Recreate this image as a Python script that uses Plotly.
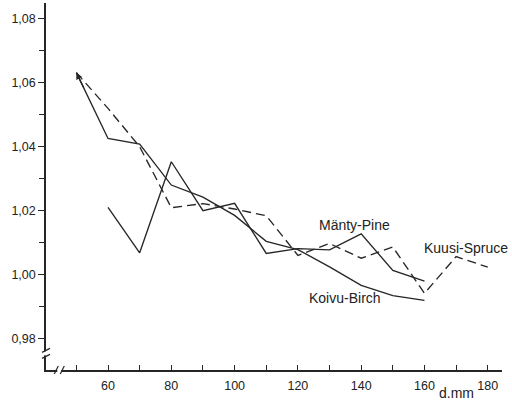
import plotly.graph_objects as go

# Tree diameter classes (mm) and form ratio per species
birch_d = [50, 60, 70, 80, 90, 100, 110, 120, 130, 140, 150, 160]
birch_v = [1.0632, 1.0426, 1.0408, 1.0280, 1.0242, 1.0185, 1.0104, 1.0078, 1.0024, 0.9966, 0.9934, 0.9919]

pine_d = [60, 70, 80, 90, 100, 110, 120, 130, 140, 150, 160]
pine_v = [1.0210, 1.0068, 1.0353, 1.0200, 1.0223, 1.0066, 1.0081, 1.0077, 1.0127, 1.0013, 0.9979]

spruce_d = [50, 60, 70, 80, 90, 100, 110, 120, 130, 140, 150, 160, 170, 180]
spruce_v = [1.0632, 1.0520, 1.0400, 1.0209, 1.0222, 1.0205, 1.0184, 1.0060, 1.0097, 1.0051, 1.0086, 0.9941, 1.0056, 1.0023]

x_ticks = [60, 80, 100, 120, 140, 160, 180]
x_tick_text = ["60", "80", "100", "120", "140", "160", "180"]
y_ticks = [0.98, 1.00, 1.02, 1.04, 1.06, 1.08]
y_tick_text = ["0,98", "1,00", "1,02", "1,04", "1,06", "1,08"]

INK = "#262626"
X_RANGE = [40.4, 184.5]
Y_RANGE = [0.9701, 1.085]
X_BREAK = 44.6     # axis break position on the d axis
Y_BREAK = 0.9753   # axis break position on the ratio axis

fig = go.Figure()

fig.add_trace(go.Scatter(x=birch_d, y=birch_v, mode="lines",
                         line=dict(color=INK, width=1.35), name="Koivu-Birch"))
fig.add_trace(go.Scatter(x=pine_d, y=pine_v, mode="lines",
                         line=dict(color=INK, width=1.35), name="Mänty-Pine"))
fig.add_trace(go.Scatter(x=spruce_d, y=spruce_v, mode="lines",
                         line=dict(color=INK, width=1.35, dash="9px,5px"),
                         name="Kuusi-Spruce"))

lab_font = dict(family="Liberation Sans, Arial, sans-serif", size=14, color="#222")
annotations = [
    dict(x=137.8, y=1.0155, xref="x", yref="y", text="Mänty-Pine",
         showarrow=False, font=lab_font),
    dict(x=173.2, y=1.0083, xref="x", yref="y", text="Kuusi-Spruce",
         showarrow=False, font=lab_font),
    dict(x=135.0, y=0.9926, xref="x", yref="y", text="Koivu-Birch",
         showarrow=False, font=lab_font),
    dict(x=170.0, y=0, xref="x", yref="paper", yanchor="top", yshift=-13,
         text="d.mm", showarrow=False, font=lab_font),
    # arrowhead at the start of the birch curve
    dict(x=birch_d[0], y=birch_v[0], xref="x", yref="y",
         ax=birch_d[0] + 0.25 * (birch_d[1] - birch_d[0]),
         ay=birch_v[0] + 0.25 * (birch_v[1] - birch_v[0]),
         axref="x", ayref="y", text="", showarrow=True,
         arrowhead=2, arrowsize=1.0, arrowwidth=1.3, arrowcolor=INK, standoff=0),
]

# axis break marks
xb = (X_BREAK - X_RANGE[0]) / (X_RANGE[1] - X_RANGE[0])
yb = (Y_BREAK - Y_RANGE[0]) / (Y_RANGE[1] - Y_RANGE[0])
shapes = [
    # gap and strokes on the vertical axis
    dict(type="rect", xref="paper", yref="paper", xsizemode="pixel", ysizemode="pixel",
         xanchor=0, yanchor=yb, x0=-2, x1=2, y0=-2, y1=2,
         fillcolor="white", line=dict(width=0), layer="above"),
    dict(type="line", xref="paper", yref="paper", xsizemode="pixel", ysizemode="pixel",
         xanchor=0, yanchor=yb, x0=-4, x1=4, y0=-5, y1=-1,
         line=dict(color=INK, width=1.2), layer="above"),
    dict(type="line", xref="paper", yref="paper", xsizemode="pixel", ysizemode="pixel",
         xanchor=0, yanchor=yb, x0=-4, x1=4, y0=1, y1=5,
         line=dict(color=INK, width=1.2), layer="above"),
    # gap and strokes on the horizontal axis
    dict(type="rect", xref="paper", yref="paper", xsizemode="pixel", ysizemode="pixel",
         xanchor=xb, yanchor=0, x0=-2, x1=2, y0=-2, y1=2,
         fillcolor="white", line=dict(width=0), layer="above"),
    dict(type="line", xref="paper", yref="paper", xsizemode="pixel", ysizemode="pixel",
         xanchor=xb, yanchor=0, x0=-5, x1=-1, y0=-4, y1=4,
         line=dict(color=INK, width=1.2), layer="above"),
    dict(type="line", xref="paper", yref="paper", xsizemode="pixel", ysizemode="pixel",
         xanchor=xb, yanchor=0, x0=1, x1=5, y0=-4, y1=4,
         line=dict(color=INK, width=1.2), layer="above"),
]

tick_font = dict(family="Liberation Sans, Arial, sans-serif", size=12.5, color="#222")

fig.update_layout(
    width=512, height=400,
    margin=dict(l=46, r=10, t=3, b=30),
    paper_bgcolor="white", plot_bgcolor="white",
    showlegend=False,
    annotations=annotations,
    shapes=shapes,
    xaxis=dict(range=X_RANGE, showgrid=False, zeroline=False,
               showline=True, linecolor=INK, linewidth=1.5,
               tickmode="array", tickvals=x_ticks, ticktext=x_tick_text,
               ticks="inside", ticklen=5, tickwidth=1.2, tickcolor=INK,
               minor=dict(tick0=50, dtick=10, ticks="inside", ticklen=5,
                          tickwidth=1.2, tickcolor=INK, showgrid=False),
               tickfont=tick_font, ticklabelstandoff=3),
    yaxis=dict(range=Y_RANGE, showgrid=False, zeroline=False,
               showline=True, linecolor=INK, linewidth=1.5,
               tickmode="array", tickvals=y_ticks, ticktext=y_tick_text,
               ticks="outside", ticklen=6, tickwidth=1.2, tickcolor=INK,
               minor=dict(tick0=0.99, dtick=0.01, ticks="outside", ticklen=5,
                          tickwidth=1.2, tickcolor=INK, showgrid=False),
               tickfont=tick_font),
)

fig.write_html("out.html")
